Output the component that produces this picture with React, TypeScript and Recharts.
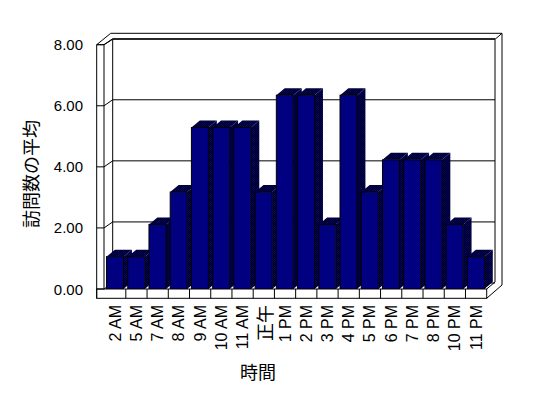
import { BarChart, Bar, XAxis, YAxis, CartesianGrid, Label } from 'recharts'

const hours = ['2 AM', '5 AM', '7 AM', '8 AM', '9 AM', '10 AM', '11 AM', '正午', '1 PM', '2 PM', '3 PM', '4 PM', '5 PM', '6 PM', '7 PM', '8 PM', '10 PM', '11 PM']
const visits = [1, 1, 2, 3, 5, 5, 5, 3, 6, 6, 2, 6, 3, 4, 4, 4, 2, 1]
const yTicks = [0, 2, 4, 6, 8]

const data = hours.map((h, i) => ({ hour: h, avg: visits[i] }))

const W = 540
const H = 390
const M = { top: 36.7, right: 61.3, left: 36.6, bottom: 42 }
const Y_W = 60
const X_H = 67
const PL = M.left + Y_W
const PR = W - M.right
const FT = H - M.bottom - X_H
const BAND = (PR - PL) / hours.length
// depth of the 3d box
const DX = 8.4
const DY = 7
const JP = '"Noto Sans CJK JP", sans-serif'
const LAT = '"Liberation Sans", Arial, sans-serif'

function Bar3D(props: any) {
  const { x, y, width, height, index } = props
  return (
    <g>
      {index === 0 && (
        <defs>
          <pattern id="hatch" width="2" height="2" patternUnits="userSpaceOnUse">
            <rect width="2" height="2" fill="#000080" />
            <rect width="1" height="1" fill="#000" />
            <rect x="1" y="1" width="1" height="1" fill="#000" />
          </pattern>
        </defs>
      )}
      <polygon
        points={`${x},${y} ${x + DX},${y - DY} ${x + width + DX},${y - DY} ${x + width},${y}`}
        fill="url(#hatch)"
      />
      <polygon
        points={`${x + width},${y} ${x + width + DX},${y - DY} ${x + width + DX},${y + height - DY} ${x + width},${y + height}`}
        fill="url(#hatch)"
      />
      <rect x={x} y={y} width={width} height={height} fill="#000080" stroke="#000" strokeWidth={1} />
    </g>
  )
}

function GridLine(props: any) {
  const { x1, x2, y1 } = props
  const yb = y1 - 6
  return (
    <g stroke="#000" strokeWidth={1} fill="none">
      <line x1={x1 - 8} y1={y1} x2={x1 - 0.6} y2={y1} />
      <line x1={x1 - 0.6} y1={y1} x2={x1 + 8.1} y2={yb} />
      <line x1={x1 + 8.1} y1={yb} x2={x2 + 8.3} y2={yb} />
    </g>
  )
}

function XTick(props: any) {
  const { x, y, payload, index } = props
  const ty = y + 8
  const jp = payload.value === '正午'
  return (
    <g>
      {index < hours.length - 1 && (
        <line x1={x + BAND / 2} y1={FT} x2={x + BAND / 2} y2={FT + 9.3} stroke="#000" />
      )}
      <text
        x={x}
        y={ty}
        transform={`rotate(-90, ${x}, ${ty})`}
        textAnchor="end"
        dominantBaseline="central"
        fontFamily={jp ? JP : LAT}
        fontSize={jp ? 18 : 16}
        fill="#000"
      >
        {payload.value}
      </text>
    </g>
  )
}

function YTick(props: any) {
  const { x, y, payload } = props
  return (
    <text x={x} y={y} textAnchor="end" dominantBaseline="central" fontFamily={LAT} fontSize={15} fill="#000">
      {Number(payload.value).toFixed(2)}
    </text>
  )
}

function Walls() {
  const L = PL - 7.9
  const Li = PL - 0.6
  const FB = FT + 9.3
  const BL = Li + 8.7
  const BT = M.top - 5.4
  const BR = PR + 8.3
  const OT = M.top - 11.4
  const OR = PR + 15.3
  return (
    <svg width={W} height={H} style={{ position: 'absolute', left: 0, top: 0 }}>
      <g stroke="#000" strokeWidth={1} fill="none">
        <line x1={L} y1={M.top} x2={L} y2={FB} />
        <line x1={Li} y1={M.top} x2={Li} y2={FT} />
        <line x1={L} y1={M.top} x2={Li} y2={M.top} />
        <line x1={L} y1={M.top} x2={L + 14} y2={OT} />
        <line x1={Li} y1={M.top} x2={BL} y2={BT} />
        <line x1={L + 14} y1={OT} x2={OR} y2={OT} />
        <line x1={OR} y1={OT} x2={OR} y2={FT - 4} />
        <line x1={BL} y1={BT} x2={BR} y2={BT} />
        <line x1={BL} y1={BT} x2={BL} y2={FT - 7} />
        <line x1={BR} y1={BT} x2={BR} y2={FT - 7} />
        <line x1={BR} y1={BT} x2={OR} y2={OT} />
        <rect x={L} y={FT} width={PR - L} height={FB - FT} />
        <line x1={PR} y1={FT} x2={BR} y2={FT - 7} />
        <line x1={PR} y1={FB} x2={OR} y2={FT - 4} />
      </g>
    </svg>
  )
}

export default function App() {
  return (
    <div style={{ position: 'relative', width: W, height: H, background: '#fff' }}>
      <Walls />
      <div style={{ position: 'absolute', left: 0, top: 0 }}>
        <BarChart width={W} height={H} data={data} margin={M} barCategoryGap="9%">
          <CartesianGrid vertical={false} horizontal={(p: any) => <GridLine key={p.key ?? p.index} {...p} />} />
          <XAxis
            dataKey="hour"
            height={X_H}
            axisLine={false}
            tickLine={false}
            interval={0}
            tick={<XTick />}
          >
            <Label
              content={() => (
                <text x={250} y={363} textAnchor="middle" dominantBaseline="central" fontFamily={JP} fontSize={18} fill="#000">
                  時間
                </text>
              )}
            />
          </XAxis>
          <YAxis
            width={Y_W}
            domain={[0, 8]}
            allowDataOverflow
            ticks={yTicks}
            axisLine={false}
            tickLine={false}
            tickSize={0}
            tickMargin={21.6}
            tick={<YTick />}
          >
            <Label
              content={() => (
                <text
                  x={22}
                  y={166}
                  transform="rotate(-90, 22, 166)"
                  textAnchor="middle"
                  dominantBaseline="central"
                  fontFamily={JP}
                  fontSize={18}
                  fill="#000"
                >
                  訪問数の平均
                </text>
              )}
            />
          </YAxis>
          <YAxis yAxisId="bars" hide domain={[0, 7.564]} allowDataOverflow />
          <Bar dataKey="avg" yAxisId="bars" shape={<Bar3D />} isAnimationActive={false} />
        </BarChart>
      </div>
    </div>
  )
}
